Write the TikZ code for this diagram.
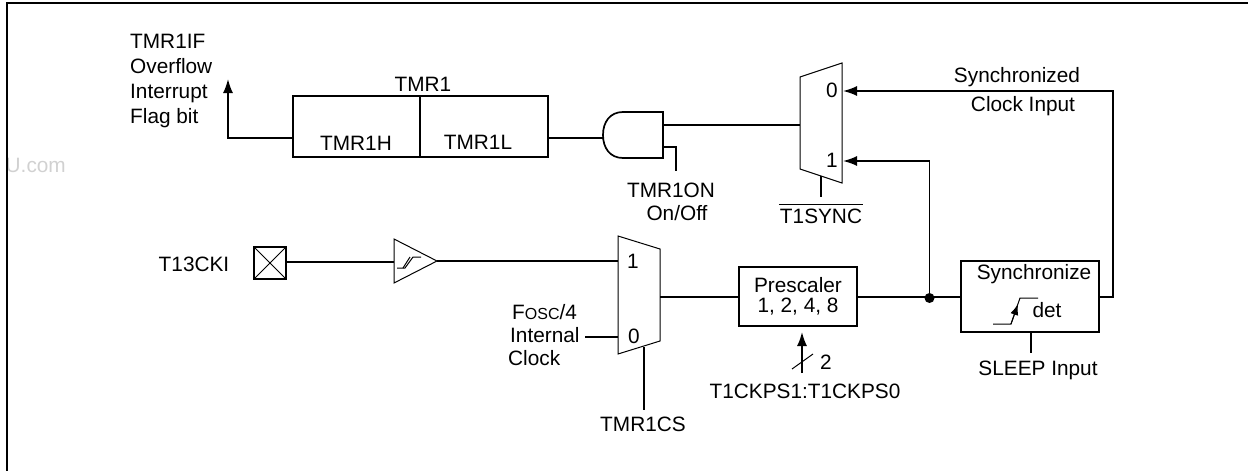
\documentclass[tikz,border=0pt]{standalone}
\usepackage{fontspec}
\setmainfont{Liberation Sans}
\usetikzlibrary{arrows.meta}
\tikzset{
    wire/.style={line width=1.7pt},
    sigarrow/.style={wire, -{Latex[length=14pt,width=10pt]}},
    blockbox/.style={rectangle, draw, line width=1.7pt, inner sep=0pt, outer sep=0pt},
    lbl/.style={inner sep=0pt, align=center},
    thinline/.style={line width=1pt}
}
\begin{document}
\begin{tikzpicture}[x=1pt,y=-1pt,font=\fontsize{20.8}{24.8}\selectfont]
    \useasboundingbox (0,0) rectangle (1248,471);

    % Watermark and frame
    \node[lbl, anchor=east, text=black!18] (mark) at (66,165) {U.com};
    \coordinate (framebl) at (7,471);
    \coordinate (frametl) at (7,3);
    \coordinate (frametr) at (1248,3);
    \draw[line width=2pt] (framebl) -- (frametl) -- (frametr);

    % TMR1 register
    \node[blockbox, minimum width=255pt, minimum height=61pt] (tmr1) at (420.5,126.5) {};
    \draw[wire] (tmr1.north -| 420,0) -- (tmr1.south -| 420,0);
    \coordinate (tmr1out) at (293,138);
    \coordinate (tmr1in) at (548,138);
    \coordinate (flag) at (228,79);
    \node[lbl] (tmr1lbl) at (423,84) {TMR1};
    \node[lbl] (tmr1h) at (356,143) {TMR1H};
    \node[lbl] (tmr1l) at (478,142) {TMR1L};
    \node[lbl, anchor=west, align=left] (flaglbl) at (130,81) {TMR1IF\\Overflow\\Interrupt\\Flag bit};

    % AND gate
    \draw[wire] (623,112) -- (663,112) -- (663,158) -- (623,158) .. controls (610,158) and (603,148) .. (603,135) .. controls (603,122) and (610,112) .. (623,112);
    \coordinate (andin) at (603,138);
    \coordinate (andout) at (663,125);
    \coordinate (anden) at (663,147);
    \coordinate (enstub) at (676,171);
    \node[lbl] (onlbl) at (671,190) {TMR1ON};
    \node[lbl] (offlbl) at (677,213) {On/Off};

    % Upper mux
    \draw[thinline] (800,77) -- (842,63) -- (842,183) -- (800,169) -- cycle;
    \node[lbl] (upzero) at (832,90) {0};
    \node[lbl] (upone) at (832,160) {1};
    \coordinate (upin) at (800,125);
    \coordinate (uppt0) at (843,91);
    \coordinate (uppt1) at (843,161);
    \coordinate (upsel) at (821,176);
    \coordinate (upselend) at (821,197);
    \node[lbl] (syncbar) at (821,216) {T1SYNC};
    \draw[wire] ([xshift=-1pt,yshift=4pt]syncbar.north west) -- ([xshift=1pt,yshift=4pt]syncbar.north east);

    % Clock input
    \node[lbl] (ckilbl) at (194,264) {T13CKI};
    \node[blockbox, minimum size=32pt] (pin) at (270,263) {};
    \draw[thinline] (pin.north west) -- (pin.south east);
    \draw[thinline] (pin.south west) -- (pin.north east);

    % Schmitt buffer
    \draw[thinline] (394,239) -- (437,261) -- (394,283) -- cycle;
    \draw[thinline] (397,268) -- (405,268) -- (413,257) -- (421,257);
    \draw[thinline] (403,268) -- (410,257);
    \coordinate (bufin) at (394,262);
    \coordinate (bufout) at (437,261);

    % Lower mux
    \draw[thinline] (618,236) -- (660,249) -- (660,341) -- (618,354) -- cycle;
    \node[lbl] (lowone) at (633,261) {1};
    \node[lbl] (lowzero) at (634,336) {0};
    \coordinate (lowpt1) at (618,261);
    \coordinate (lowpt0) at (618,337);
    \coordinate (lowout) at (660,297);
    \coordinate (lowsel) at (644,347);
    \coordinate (lowselend) at (644,410);
    \coordinate (oscend) at (585,337);
    \node[lbl] (cslbl) at (643,424) {TMR1CS};
    \node[lbl, anchor=west] (osclbl) at (512,312) {F{\fontsize{16}{24}\selectfont OSC}/4};
    \node[lbl, anchor=west] (intlbl) at (510,335) {Internal};
    \node[lbl, anchor=west] (clocklbl) at (508,358) {Clock};

    % Prescaler
    \node[blockbox, lbl, minimum width=118pt, minimum height=59pt, font=\fontsize{20.8}{20.5}\selectfont] (presc) at (798,296.5) {Prescaler\\1, 2, 4, 8};
    \coordinate (pscin) at (802,373);
    \coordinate (pscpt) at (802,332);
    \coordinate (slasha) at (792,369);
    \coordinate (slashb) at (813,354);
    \node[lbl] (twolbl) at (826,362) {2};
    \node[lbl] (pslbl) at (805,391) {T1CKPS1:T1CKPS0};

    % Synchronizer
    \node[blockbox, minimum width=138pt, minimum height=71pt] (sync) at (1030,296.5) {};
    \node[lbl] (synclbl) at (1034,274) {Synchronize};
    \node[lbl] (detlbl) at (1047,310) {det};
    \coordinate (edgea) at (993,324);
    \coordinate (edgeb) at (1011,324);
    \coordinate (edgec) at (1020,298);
    \coordinate (edged) at (1038,298);
    \coordinate (sleepend) at (1031,353);
    \coordinate (turn) at (1113,91);
    \node[lbl] (sleeplbl) at (1038,370) {SLEEP Input};
    \node[lbl] (synced) at (1017,77) {Synchronized};
    \node[lbl] (clklbl) at (1023,106) {Clock Input};
    \node[circle, fill=black, inner sep=0pt, minimum size=10pt] (jct) at (929.5,298) {};

    % Edge symbol
    \draw[thinline] (edgea) -- (edgeb) -- (edgec) -- (edged);
    \draw[thinline, -{Latex[length=11pt,width=8pt]}] (edgeb) -- (1018,304);

    % Connections
    \draw[sigarrow] (tmr1out) -| (flag);
    \draw[wire] (tmr1in) -- (andin);
    \draw[wire] (andout) -- (upin);
    \draw[wire] (anden) -| (enstub);
    \draw[wire] (upsel) -- (upselend);
    \draw[wire] (pin.east |- bufin) -- (bufin);
    \draw[wire] (bufout) -- (lowpt1);
    \draw[wire] (oscend) -- (lowpt0);
    \draw[wire] (lowout) -- (presc.west |- lowout);
    \draw[wire] (lowsel) -- (lowselend);
    \draw[wire] (presc.east |- lowout) -- (sync.west |- lowout);
    \draw[sigarrow] (jct.center) |- (uppt1);
    \draw[sigarrow] (sync.east |- lowout) -| (turn) -- (uppt0);
    \draw[wire] (sync.south -| sleepend) -- (sleepend);
    \draw[sigarrow] (pscin) -- (pscpt);
    \draw[thinline] (slasha) -- (slashb);
\end{tikzpicture}
\end{document}
